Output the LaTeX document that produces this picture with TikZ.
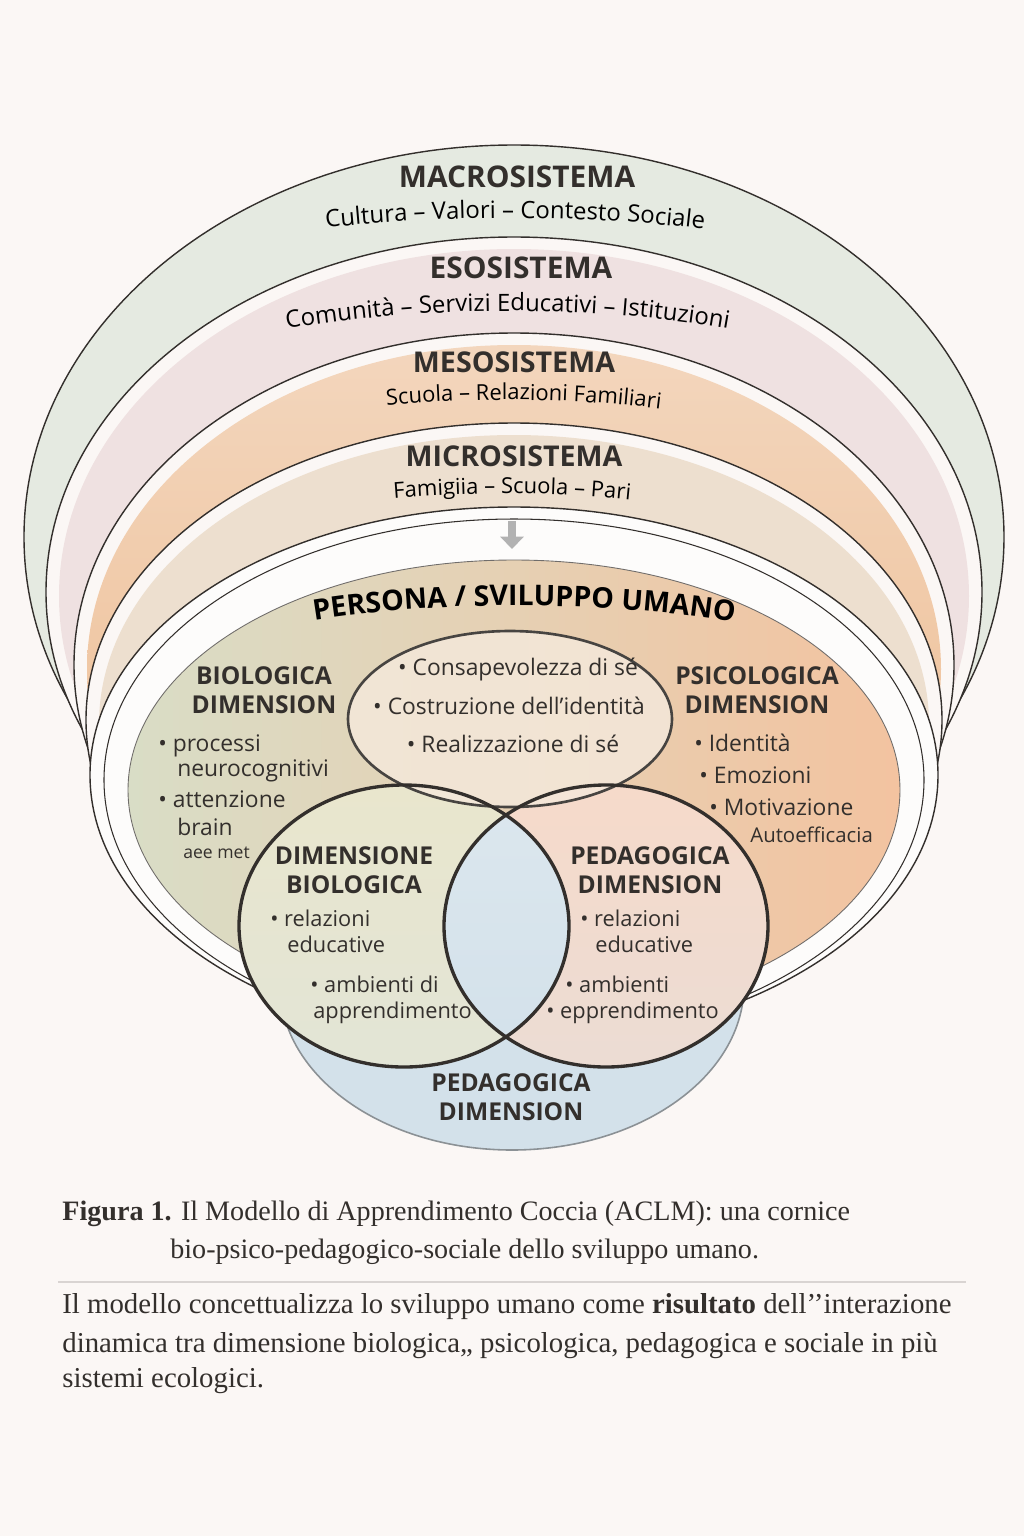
\documentclass[tikz,border=0pt]{standalone}
\usepackage{fontspec}
\setmainfont{Open Sans}
\newfontfamily\capfont{Liberation Serif}
\usetikzlibrary{arrows.meta,decorations.text}

\definecolor{paper}{HTML}{FBF7F5}
\definecolor{ink}{HTML}{332F2C}
\definecolor{macroc}{HTML}{E5EAE1}
\definecolor{esoc}{HTML}{EFE1E1}
\definecolor{mesotop}{HTML}{F3D6BD}
\definecolor{mesobot}{HTML}{EDB98C}
\definecolor{microc}{HTML}{EDDFCF}
\definecolor{persl}{HTML}{D9DDC6}
\definecolor{persr}{HTML}{F3C3A0}
\definecolor{selfc}{HTML}{F4E8DA}
\definecolor{bioc}{HTML}{E9E6CD}
\definecolor{pedc}{HTML}{F6DACA}
\definecolor{bluec}{HTML}{D3E1EA}
\definecolor{rulec}{HTML}{D9D4D2}

\begin{document}
\begin{tikzpicture}[x=0.02cm,y=-0.02cm,
    sysline/.style={draw=ink,line width=0.8pt},
    vennline/.style={draw=ink,line width=1.9pt},
    head/.style={font=\bfseries\fontsize{17}{20}\selectfont,text=ink},
    dimhead/.style={font=\bfseries\fontsize{14}{16.6}\selectfont,align=center,text=ink},
    item/.style={font=\fontsize{13}{15}\selectfont,anchor=base west,inner sep=0pt,text=ink},
    vitem/.style={item,font=\fontsize{12.4}{15}\selectfont},
    capt/.style={font=\capfont\fontsize{16}{19}\selectfont,anchor=base west,inner sep=0pt,text=ink},
    para/.style={capt,font=\capfont\fontsize{16.4}{19}\selectfont}]
  \useasboundingbox (0,0) rectangle (1024,1536);
  \fill[paper] (0,0) rectangle (1024,1536);

  % ecological systems
  \draw[sysline,fill=macroc] (514,537) ellipse [x radius=490,y radius=392];
  \draw[sysline,fill=paper] (514,592) ellipse [x radius=468,y radius=355];
  \fill[esoc] (514,596) ellipse [x radius=455,y radius=347];
  \draw[sysline,fill=paper] (514,665) ellipse [x radius=440,y radius=332];
  \shade[top color=mesotop,bottom color=mesobot] (514,669) ellipse [x radius=427,y radius=324];
  \draw[sysline,fill=paper] (514,720) ellipse [x radius=428,y radius=297];
  \fill[microc] (514,724) ellipse [x radius=415,y radius=289];

  % persona
  \draw[sysline,fill=white!60!paper] (514,775) ellipse [x radius=424,y radius=268];
  \draw[sysline,line width=0.6pt] (514,780) ellipse [x radius=410,y radius=261];
  \shade[left color=persl,right color=persr,draw=ink!70,line width=0.5pt]
    (514,790) ellipse [x radius=386,y radius=230];

  % venn
  \draw[draw=ink!45!bluec,line width=0.9pt,fill=bluec] (512,985) ellipse [x radius=232,y radius=165];
  \shade[top color=bioc,bottom color=bioc!70!bluec] (404,926) ellipse [x radius=165,y radius=141];
  \shade[top color=pedc,bottom color=pedc!70!bluec] (606,926) ellipse [x radius=162,y radius=141];
  \begin{scope}
    \clip (404,926) ellipse [x radius=165,y radius=141];
    \shade[top color=bluec!80!white,bottom color=bluec] (606,926) ellipse [x radius=162,y radius=141];
  \end{scope}
  \fill[selfc,fill opacity=0.85] (510,719) ellipse [x radius=162,y radius=88];
  \draw[vennline,line width=1.5pt,draw=ink!90] (510,719) ellipse [x radius=162,y radius=88];
  \draw[vennline] (404,926) ellipse [x radius=165,y radius=141];
  \draw[vennline] (606,926) ellipse [x radius=162,y radius=141];

  % arrow micro -> persona
  \coordinate (arrS) at (512,521);
  \coordinate (arrE) at (512,549);
  \draw[draw=black!30,line width=4.5pt,-{Triangle[length=7pt,width=13pt]}] (arrS) -- (arrE);

  % system labels
  \node[head] (macroT) at (517,177) {MACROSISTEMA};
  \path[decorate,decoration={text along path,text align=center,
    text={|\fontsize{13.6}{16}\selectfont|Cultura – Valori – Contesto Sociale}}]
    (290,232) .. controls (430,213) and (600,213) .. (740,234);
  \node[head] (esoT) at (521,268) {ESOSISTEMA};
  \path[decorate,decoration={text along path,text align=center,
    text={|\fontsize{13.6}{16}\selectfont|Comunità – Servizi Educativi – Istituzioni}}]
    (255,335) .. controls (410,303) and (610,303) .. (760,335);
  \node[head,font=\bfseries\fontsize{16.3}{20}\selectfont] (mesoT) at (514,362) {MESOSISTEMA};
  \path[decorate,decoration={text along path,text align=center,
    text={|\fontsize{12.5}{15}\selectfont|Scuola – Relazioni Familiari}}]
    (370,407) .. controls (465,397) and (580,397) .. (677,411);
  \node[head,font=\bfseries\fontsize{16.3}{20}\selectfont] (microT) at (514,456) {MICROSISTEMA};
  \path[decorate,decoration={text along path,text align=center,
    text={|\fontsize{12.5}{15}\selectfont|Famigiia – Scuola – Pari}}]
    (372,500) .. controls (465,491) and (560,491) .. (652,502);
  \path[decorate,decoration={text along path,text align=center,
    text={|\bfseries\fontsize{16.2}{18}\selectfont|PERSONA / SVILUPPO UMANO}}]
    (288,625) .. controls (415,599) and (625,599) .. (760,627);

  % biologica
  \node[dimhead] (bioT) at (264,690) {BIOLOGICA\\DIMENSION};
  \node[item] (bio1) at (158,751) {• processi};
  \node[item] (bio2) at (177,776) {neurocognitivi};
  \node[item] (bio3) at (158,807) {• attenzione};
  \node[item] (bio4) at (177,835) {brain};
  \node[item,font=\fontsize{10}{11}\selectfont] (bio5) at (183,858) {aee met};

  % self
  \node[item,anchor=base] (self1) at (518,675) {• Consapevolezza di sé};
  \node[item,anchor=base] (self2) at (509,714) {• Costruzione dell’identità};
  \node[item,anchor=base] (self3) at (513,752) {• Realizzazione di sé};

  % psicologica
  \node[dimhead] (psiT) at (757,690) {PSICOLOGICA\\DIMENSION};
  \node[item] (psi1) at (694,751) {• Identità};
  \node[item] (psi2) at (699,783) {• Emozioni};
  \node[item] (psi3) at (709,815) {• Motivazione};
  \node[item,font=\fontsize{11.6}{13}\selectfont] (psi4) at (750,842) {Autoefficacia};

  % dimensione biologica
  \node[dimhead] (dbT) at (354,870) {DIMENSIONE\\BIOLOGICA};
  \node[vitem] (db1) at (270,926) {• relazioni};
  \node[vitem] (db2) at (287,952) {educative};
  \node[vitem] (db3) at (310,992) {• ambienti di};
  \node[vitem] (db4) at (313,1018) {apprendimento};

  % pedagogica
  \node[dimhead] (pdT) at (650,870) {PEDAGOGICA\\DIMENSION};
  \node[vitem] (pd1) at (580,926) {• relazioni};
  \node[vitem] (pd2) at (595,952) {educative};
  \node[vitem] (pd3) at (565,992) {• ambienti};
  \node[vitem] (pd4) at (546,1018) {• epprendimento};

  \node[dimhead] (pedT) at (511,1097) {PEDAGOGICA\\DIMENSION};

  % caption
  \node[capt] (cap1) at (62,1220) {\textbf{Figura 1.} Il Modello di Apprendimento Coccia (ACLM): una cornice};
  \node[capt] (cap2) at (170,1258) {bio-psico-pedagogico-sociale dello sviluppo umano.};
  \draw[rulec,line width=0.6pt] (58,1282) -- (966,1282);
  \node[para] (par1) at (62,1313)
    {Il modello concettualizza lo sviluppo umano come \textbf{risultato} dell’’interazione};
  \node[para] (par2) at (62,1352)
    {dinamica tra dimensione biologica„ psicologica, pedagogica e sociale in più};
  \node[para] (par3) at (62,1387) {sistemi ecologici.};
\end{tikzpicture}
\end{document}
